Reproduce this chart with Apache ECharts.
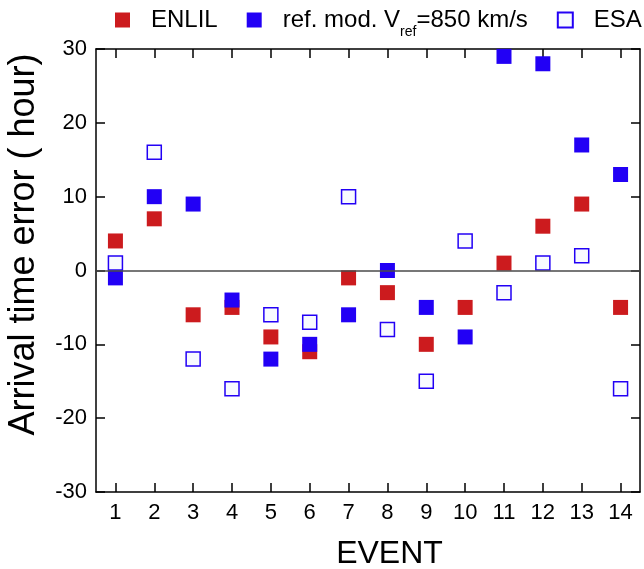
<!DOCTYPE html>
<html>
<head>
<meta charset="utf-8">
<script src="https://cdn.jsdelivr.net/npm/echarts@6/dist/echarts.min.js"></script>
<style>
  html, body { margin: 0; padding: 0; background: #fff; }
  #chart { width: 644px; height: 569px; }
</style>
</head>
<body>
<div id="chart"></div>
<script>
// Arrival time error per event (hours)
const events = ['1', '2', '3', '4', '5', '6', '7', '8', '9', '10', '11', '12', '13', '14'];
const enlil  = [4, 7, -6, -5, -9, -11, -1, -3, -10, -5, 1, 6, 9, -5];
const refMod = [-1, 10, 9, -4, -12, -10, -6, 0, -5, -9, 29, 28, 17, 13];
const esa    = [1, 16, -12, -16, -6, -7, 10, -8, -15, 4, -3, 1, 2, -16];
const yTicks = [-30, -20, -10, 0, 10, 20, 30];

const FONT = 'Liberation Sans, Arial, Helvetica, sans-serif';
const RED = '#cc1b1e';
const BLUE = '#2200f5';
const REF_NAME = 'ref. mod. Vref=850 km/s';

const chart = echarts.init(document.getElementById('chart'));

const tickStyle = { show: true, inside: true, length: 9, lineStyle: { color: '#000', width: 1.5 } };
const lineStyle = { show: true, onZero: false, lineStyle: { color: '#000', width: 1.5 } };

chart.setOption({
  animation: false,
  backgroundColor: '#fff',
  textStyle: { fontFamily: FONT },
  grid: { left: 96, right: 4, top: 49, bottom: 77, outerBoundsMode: 'none', containLabel: false },
  legend: {
    data: ['ENLIL', REF_NAME, 'ESA'],
    left: 115,
    top: 6,
    padding: 0,
    itemWidth: 15,
    itemHeight: 15,
    itemGap: 29,
    formatter: function (name) {
      // "V" with subscript "ref"
      if (name === REF_NAME) return '{n|ref. mod. V}{s|ref}{n|=850 km/s}';
      return '{n|' + name + '}';
    },
    textStyle: {
      fontFamily: FONT,
      color: '#000',
      padding: [0, 0, 0, 16],
      rich: {
        n: { fontFamily: FONT, fontSize: 24, color: '#000', lineHeight: 28, padding: [2, 0, 0, 0], verticalAlign: 'top' },
        s: { fontFamily: FONT, fontSize: 14, color: '#000', lineHeight: 14, padding: [19, 0, 0, 0], verticalAlign: 'top' }
      }
    }
  },
  xAxis: [
    {
      type: 'category',
      data: events,
      position: 'bottom',
      boundaryGap: true,
      name: 'EVENT',
      nameLocation: 'middle',
      nameGap: 46,
      nameTextStyle: { fontFamily: FONT, fontSize: 32, color: '#000', padding: [0, 0, 0, 43] },
      axisLine: lineStyle,
      axisTick: Object.assign({ alignWithLabel: true }, tickStyle),
      axisLabel: { fontFamily: FONT, fontSize: 22, color: '#000', margin: 10, interval: 0 },
      splitLine: { show: false }
    },
    {
      type: 'category',
      data: events,
      position: 'top',
      boundaryGap: true,
      axisLine: lineStyle,
      axisTick: Object.assign({ alignWithLabel: true }, tickStyle),
      axisLabel: { show: false },
      splitLine: { show: false }
    }
  ],
  yAxis: [
    {
      type: 'value',
      min: yTicks[0],
      max: yTicks[yTicks.length - 1],
      interval: 10,
      position: 'left',
      name: 'Arrival time error ( hour)',
      nameLocation: 'middle',
      nameGap: 54,
      nameRotate: 90,
      nameTextStyle: { fontFamily: FONT, fontSize: 36, color: '#000', padding: [0, 0, 0, 52] },
      axisLine: lineStyle,
      axisTick: tickStyle,
      axisLabel: { fontFamily: FONT, fontSize: 22, color: '#000', margin: 9 },
      splitLine: { show: false }
    },
    {
      type: 'value',
      min: yTicks[0],
      max: yTicks[yTicks.length - 1],
      interval: 10,
      position: 'right',
      axisLine: lineStyle,
      axisTick: tickStyle,
      axisLabel: { show: false },
      splitLine: { show: false }
    }
  ],
  series: [
    {
      name: 'ENLIL',
      type: 'scatter',
      symbol: 'rect',
      symbolSize: 15,
      itemStyle: { color: RED, opacity: 1 },
      data: enlil,
      z: 2
    },
    {
      name: REF_NAME,
      type: 'scatter',
      symbol: 'rect',
      symbolSize: 15,
      itemStyle: { color: BLUE, opacity: 1 },
      data: refMod,
      z: 2
    },
    {
      name: 'ESA',
      type: 'scatter',
      symbol: 'rect',
      symbolSize: 14,
      itemStyle: { color: '#f8faff', borderColor: BLUE, borderWidth: 1.5, opacity: 1 },
      data: esa,
      z: 2
    },
    {
      // zero reference line
      name: 'zero',
      type: 'scatter',
      data: [],
      z: 4,
      silent: true,
      markLine: {
        silent: true,
        symbol: 'none',
        label: { show: false },
        lineStyle: { color: '#4a4a4a', width: 1.5, type: 'solid' },
        data: [{ yAxis: 0 }]
      }
    }
  ]
});
</script>
</body>
</html>
